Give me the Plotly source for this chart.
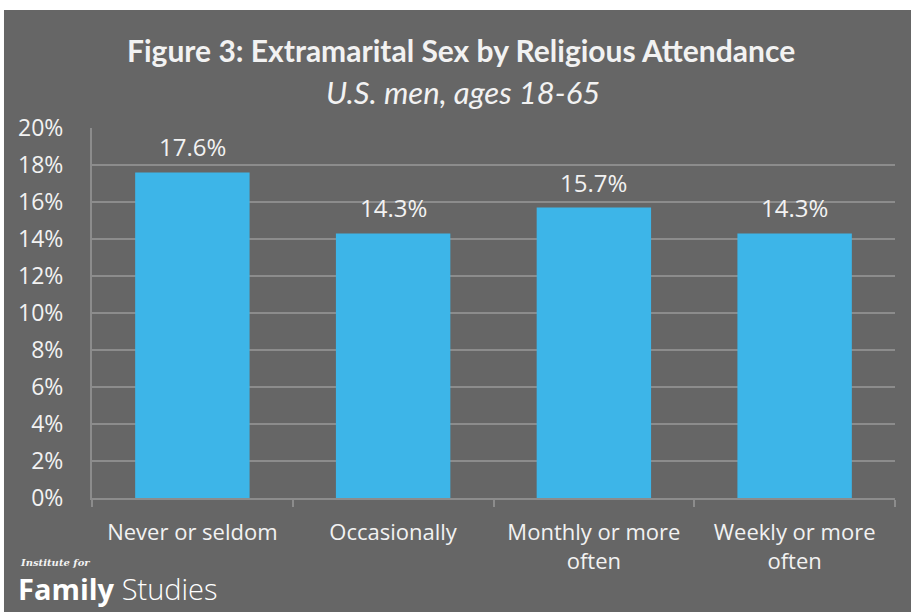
import plotly.graph_objects as go

categories = ["Never or seldom", "Occasionally", "Monthly or more<br>often", "Weekly or more<br>often"]
values = [17.6, 14.3, 15.7, 14.3]
y_ticks = [0, 2, 4, 6, 8, 10, 12, 14, 16, 18, 20]

BG = "#666666"
BAR = "#3db5e8"
TXT = "#f2f2f2"
GRID = "#8c8c8c"
FONT = "Open Sans"
TITLE_FONT = "Lato"

fig = go.Figure()
fig.add_trace(go.Bar(
    x=categories, y=values, marker=dict(color=BAR, line=dict(width=0)),
    width=0.57, hoverinfo="skip",
))

# value labels above the bars
for c, v in zip(categories, values):
    fig.add_annotation(x=c, y=v, text=f"{v:.1f}%", showarrow=False,
                       yanchor="bottom", yshift=7,
                       font=dict(family=FONT, size=24, color=TXT))

fig.update_layout(
    width=911, height=612,
    margin=dict(l=92, r=16, t=128, b=114),
    paper_bgcolor=BG, plot_bgcolor=BG,
    showlegend=False, bargap=0.43,
    font=dict(family=FONT, color=TXT),
    xaxis=dict(
        type="category", showgrid=False,
        showline=True, linecolor=GRID, linewidth=2,
        ticks="outside", tickson="boundaries", ticklen=7, tickcolor=GRID, tickwidth=2,
        tickfont=dict(family=FONT, size=22, color=TXT),
        ticklabelstandoff=14,
    ),
    yaxis=dict(
        range=[0, 20], tickvals=y_ticks, ticktext=[f"{t}%" for t in y_ticks],
        showgrid=True, gridcolor=GRID, gridwidth=2,
        zeroline=False, showline=True, linecolor=GRID, linewidth=2,
        ticks="", ticklabelstandoff=22,
        tickfont=dict(family=FONT, size=23, color=TXT),
    ),
)

# white border strips along top and left edges
fig.add_shape(type="rect", xref="paper", yref="paper", x0=-0.2, x1=1.1,
              y0=1.3189, y1=1.40, fillcolor="white", line=dict(width=0), layer="above")
fig.add_shape(type="rect", xref="paper", yref="paper", x0=-0.2, x1=-0.1096,
              y0=-0.4, y1=1.40, fillcolor="white", line=dict(width=0), layer="above")

# title and subtitle
fig.add_annotation(xref="paper", yref="paper", x=0.4595, y=1.2108, yanchor="middle",
                   text="<b>Figure 3: Extramarital Sex by Religious Attendance</b>",
                   showarrow=False, font=dict(family=TITLE_FONT, size=30, color=TXT))
fig.add_annotation(xref="paper", yref="paper", x=0.4620, y=1.0973, yanchor="middle",
                   text="<i>U.S. men, ages 18-65</i>",
                   showarrow=False, font=dict(family=TITLE_FONT, size=31, color=TXT))

# logo text
fig.add_annotation(xref="paper", yref="paper", x=-0.0920, y=-0.1730, xanchor="left",
                   yanchor="middle", text="<i><b>Institute for</b></i>", showarrow=False,
                   font=dict(family="DejaVu Serif", size=10, color=TXT))
fig.add_annotation(xref="paper", yref="paper", x=-0.0945, y=-0.3027, xanchor="left",
                   yanchor="bottom",
                   text="<b>Family</b> <span style='font-weight:300'>Studies</span>",
                   showarrow=False, font=dict(family=FONT, size=29, color="white"))

fig.write_html("out.html")
